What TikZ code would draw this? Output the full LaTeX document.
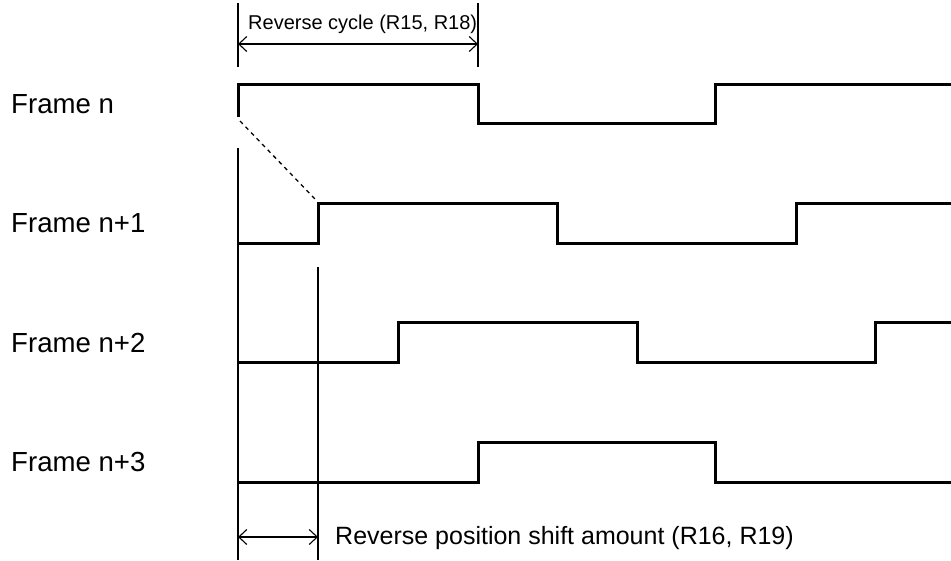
\documentclass[tikz,border=0pt]{standalone}
\usepackage{fontspec}
\setmainfont{Liberation Sans}
\usetikzlibrary{arrows.meta}

\tikzset{
  wave/.style={line width=3pt, line join=miter},
  guide/.style={line width=1.1pt},
  dim/.style={line width=1.1pt, {Straight Barb[length=8pt,width=15pt]}-{Straight Barb[length=8pt,width=15pt]}},
  framelab/.style={anchor=base west, font=\fontsize{27.6}{30}\selectfont},
}

\begin{document}
\begin{tikzpicture}[x=1pt, y=-1pt, every node/.style={inner sep=0pt}]
\useasboundingbox (0,0) rectangle (951,560);

\foreach \i/\t in {0/n, 1/n+1, 2/n+2, 3/n+3}{
    % one label per frame row
    \node[framelab] (frame\i) at (11, 113+119.5*\i) {Frame \t};
}

\draw[wave] (238,117) |- (478,84) |- (715,123) |- (951,84);
\draw[wave] (238,243) -| (318,203) -| (557,243) -| (796,203) -- (951,203);
\draw[wave] (238,362) -| (398,322) -| (637,362) -| (875,322) -- (951,322);
\draw[wave] (238,482) -| (478,442) -| (715,482) -- (951,482);

\coordinate (dashA) at (240,121);
\coordinate (dashB) at (315,199);
\draw[line width=1.3pt, dash pattern=on 4pt off 4pt] (dashA) -- (dashB);

\coordinate (cycTopL) at (238,3);
\coordinate (cycBotL) at (238,67);
\coordinate (cycTopR) at (478,3);
\coordinate (cycBotR) at (478,67);
\draw[guide] (cycTopL) -- (cycBotL);
\draw[guide] (cycTopR) -- (cycBotR);
\coordinate (cycL) at (238,44);
\coordinate (cycR) at (478,44);
\draw[dim] (cycL) -- (cycR);
\node[anchor=base west, font=\fontsize{20}{22}\selectfont] (cyclab) at (248,29) {Reverse cycle (R15, R18)};

\coordinate (refTop) at (238,148);
\coordinate (refBot) at (238,560);
\coordinate (shTop) at (318,267);
\coordinate (shBot) at (318,560);
\draw[guide] (refTop) -- (refBot);
\draw[guide] (shTop) -- (shBot);
\coordinate (shL) at (238,537);
\coordinate (shR) at (318,537);
\draw[dim] (shL) -- (shR);
\node[anchor=base west, font=\fontsize{25}{27}\selectfont] (shiftlab) at (335,544) {Reverse position shift amount (R16, R19)};

\end{tikzpicture}
\end{document}
